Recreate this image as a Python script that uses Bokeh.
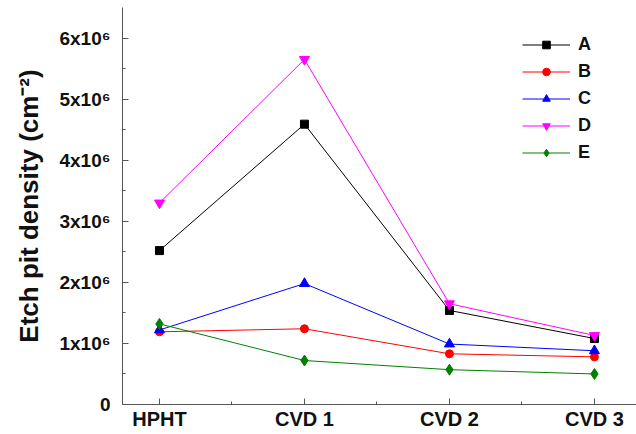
from bokeh.plotting import figure
from bokeh.models import FixedTicker, Range1d, Legend, LegendItem
from bokeh.embed import file_html
from bokeh.resources import INLINE

categories = ["HPHT", "CVD 1", "CVD 2", "CVD 3"]
x_pos = [0, 1, 2, 3]
series_names = ["A", "B", "C", "D", "E"]
A = [2.52e6, 4.59e6, 1.54e6, 1.08e6]
B = [1.19e6, 1.24e6, 0.83e6, 0.78e6]
C = [1.22e6, 1.98e6, 0.99e6, 0.88e6]
D = [3.30e6, 5.65e6, 1.65e6, 1.13e6]
E = [1.32e6, 0.72e6, 0.57e6, 0.50e6]
y_ticks = [0, 1000000, 2000000, 3000000, 4000000, 5000000, 6000000]
y_tick_labels = ["0", "1x10⁶", "2x10⁶", "3x10⁶", "4x10⁶", "5x10⁶", "6x10⁶"]

colors = ["#000000", "#ff0000", "#0000ff", "#ff00ff", "#008000"]
markers = ["square", "circle", "triangle", "inverted_triangle", "diamond"]
sizes = [8, 8, 10, 10, 11]
FONT = "Liberation Sans"

p = figure(width=636, height=434, output_backend="svg", toolbar_location=None,
           x_range=Range1d(-0.255, 3.29), y_range=Range1d(0, 6.5e6),
           min_border_left=122, min_border_right=0, min_border_top=7, min_border_bottom=30)
p.outline_line_color = None
p.xgrid.visible = False
p.ygrid.visible = False

items = []
for name, vals, c, m, s in zip(series_names, [A, B, C, D, E], colors, markers, sizes):
    l = p.line(x_pos, vals, line_color=c, line_width=1)
    r = p.scatter(x_pos, vals, marker=m, size=s, fill_color=c, line_color=c)
    items.append(LegendItem(label=name, renderers=[l, r]))

legend = Legend(items=items, location=(400, 238))
legend.border_line_color = None
legend.background_fill_alpha = 0
legend.padding = 0
legend.margin = 0
legend.spacing = 0
legend.glyph_width = 48
legend.glyph_height = 19
legend.label_height = 27
legend.label_standoff = 8
legend.label_text_font = FONT
legend.label_text_font_style = "bold"
legend.label_text_font_size = "18px"
legend.label_text_color = "#111111"
p.add_layout(legend)

xa = p.xaxis[0]
xa.ticker = FixedTicker(ticks=x_pos, minor_ticks=[0.5, 1.5, 2.5])
xa.major_label_overrides = {i: c for i, c in zip(x_pos, categories)}
ya = p.yaxis[0]
ya.ticker = FixedTicker(ticks=y_ticks, minor_ticks=[500000 + 1000000 * i for i in range(6)])
ya.major_label_overrides = {t: l for t, l in zip(y_ticks, y_tick_labels)}
ya.axis_label = "Etch pit density (cm⁻²)"
ya.axis_label_text_font = FONT
ya.axis_label_text_font_style = "bold"
ya.axis_label_text_font_size = "26px"
ya.axis_label_text_color = "#111111"
ya.axis_label_standoff = 12

for ax in (xa, ya):
    ax.axis_line_color = "#555555"
    ax.major_tick_line_color = "#555555"
    ax.minor_tick_line_color = "#555555"
    ax.major_tick_in = 6
    ax.major_tick_out = 0
    ax.minor_tick_in = 3
    ax.minor_tick_out = 0
    ax.major_label_text_font = FONT
    ax.major_label_text_font_style = "bold"
    ax.major_label_text_color = "#111111"
xa.major_label_text_font_size = "20px"
xa.major_label_standoff = 3
ya.major_label_text_font_size = "19px"
ya.major_label_standoff = 12

open("out.html", "w").write(file_html(p, INLINE))
